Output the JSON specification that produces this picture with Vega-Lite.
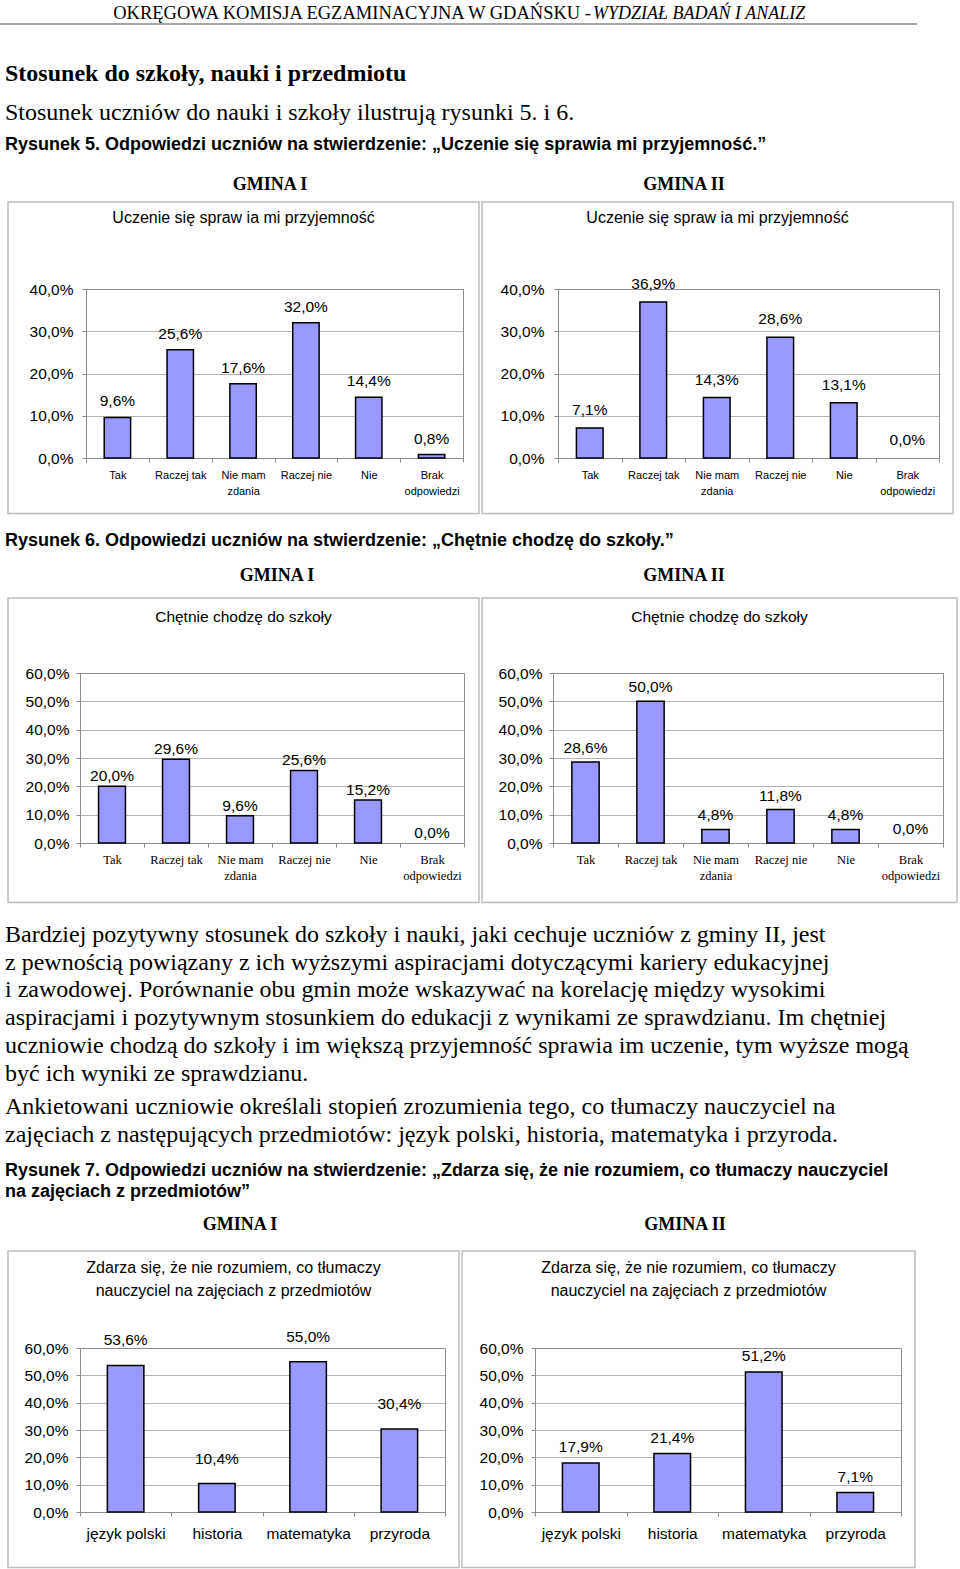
{
  "$schema": "https://vega.github.io/schema/vega-lite/v6.json",
  "padding": 0,
  "background": "white",
  "spacing": 0,
  "config": {
    "view": {"stroke": null},
    "font": "Liberation Sans",
    "locale": {"number": {"decimal": ",", "thousands": " ", "grouping": [3], "currency": ["", " zł"]}}
  },
  "datasets": {
    "g1_nauka": [
      {"odpowiedz": "Tak", "udzial": 0.096},
      {"odpowiedz": "Raczej tak", "udzial": 0.256},
      {"odpowiedz": "Nie mam zdania", "udzial": 0.176},
      {"odpowiedz": "Raczej nie", "udzial": 0.32},
      {"odpowiedz": "Nie", "udzial": 0.144},
      {"odpowiedz": "Brak odpowiedzi", "udzial": 0.008}
    ],
    "g2_nauka": [
      {"odpowiedz": "Tak", "udzial": 0.071},
      {"odpowiedz": "Raczej tak", "udzial": 0.369},
      {"odpowiedz": "Nie mam zdania", "udzial": 0.143},
      {"odpowiedz": "Raczej nie", "udzial": 0.286},
      {"odpowiedz": "Nie", "udzial": 0.131},
      {"odpowiedz": "Brak odpowiedzi", "udzial": 0.0}
    ],
    "g1_szkola": [
      {"odpowiedz": "Tak", "udzial": 0.2},
      {"odpowiedz": "Raczej tak", "udzial": 0.296},
      {"odpowiedz": "Nie mam zdania", "udzial": 0.096},
      {"odpowiedz": "Raczej nie", "udzial": 0.256},
      {"odpowiedz": "Nie", "udzial": 0.152},
      {"odpowiedz": "Brak odpowiedzi", "udzial": 0.0}
    ],
    "g2_szkola": [
      {"odpowiedz": "Tak", "udzial": 0.286},
      {"odpowiedz": "Raczej tak", "udzial": 0.5},
      {"odpowiedz": "Nie mam zdania", "udzial": 0.048},
      {"odpowiedz": "Raczej nie", "udzial": 0.118},
      {"odpowiedz": "Nie", "udzial": 0.048},
      {"odpowiedz": "Brak odpowiedzi", "udzial": 0.0}
    ],
    "g1_przedmioty": [
      {"przedmiot": "język polski", "udzial": 0.536},
      {"przedmiot": "historia", "udzial": 0.104},
      {"przedmiot": "matematyka", "udzial": 0.55},
      {"przedmiot": "przyroda", "udzial": 0.304}
    ],
    "g2_przedmioty": [
      {"przedmiot": "język polski", "udzial": 0.179},
      {"przedmiot": "historia", "udzial": 0.214},
      {"przedmiot": "matematyka", "udzial": 0.512},
      {"przedmiot": "przyroda", "udzial": 0.071}
    ]
  },
  "vconcat": [
    {
      "hconcat": [
        {"width": 591, "height": 23, "data": {"values": [{}]}, "mark": {"type": "point", "opacity": 0, "size": 0}, "encoding": {},
         "title": {"text": "OKRĘGOWA KOMISJA EGZAMINACYJNA W GDAŃSKU -", "anchor": "end", "frame": "group", "offset": -22.6, "font": "Liberation Serif", "fontSize": 18.5, "fontWeight": "normal", "color": "black"}},
        {"width": 369, "height": 23, "data": {"values": [{}]}, "mark": {"type": "point", "opacity": 0, "size": 0}, "encoding": {},
         "title": {"text": "WYDZIAŁ BADAŃ I ANALIZ", "anchor": "start", "frame": "group", "dx": 2, "offset": -22.6, "font": "Liberation Serif", "fontSize": 18, "fontStyle": "italic", "fontWeight": "normal", "color": "black"}}
      ],
      "spacing": 0, "bounds": "flush"
    },
    {"width": 917, "height": 2, "view": {"fill": "#a6a6a6", "stroke": null}, "data": {"values": [{}]}, "mark": {"type": "point", "opacity": 0, "size": 0}, "encoding": {}},
    {"width": 960, "height": 100, "data": {"values": [{}]}, "mark": {"type": "point", "opacity": 0, "size": 0}, "encoding": {},
     "title": {"text": "Stosunek do szkoły, nauki i przedmiotu", "subtitle": "Stosunek uczniów do nauki i szkoły ilustrują rysunki 5. i 6.", "anchor": "start", "frame": "group", "dx": 5, "offset": -100, "font": "Liberation Serif", "fontSize": 24, "fontWeight": "bold", "color": "black", "subtitleFont": "Liberation Serif", "subtitleFontSize": 24, "subtitleFontWeight": "normal", "subtitleColor": "black", "subtitlePadding": 15}},
    {"width": 960, "height": 35, "data": {"values": [{}]}, "mark": {"type": "point", "opacity": 0, "size": 0}, "encoding": {},
     "title": {"text": "Rysunek 5. Odpowiedzi uczniów na stwierdzenie: „Uczenie się sprawia mi przyjemność.”", "anchor": "start", "frame": "group", "dx": 5, "offset": -28.6, "font": "Liberation Sans", "fontSize": 18, "fontWeight": "bold", "color": "black"}},
    {
      "hconcat": [
        {"width": 480, "height": 41, "data": {"values": [{}]}, "mark": {"type": "point", "opacity": 0, "size": 0}, "encoding": {},
         "title": {"text": "GMINA I", "anchor": "middle", "frame": "group", "dx": 30, "offset": -33.6, "font": "Liberation Serif", "fontSize": 18, "fontWeight": "bold", "color": "black"}},
        {"width": 480, "height": 41, "data": {"values": [{}]}, "mark": {"type": "point", "opacity": 0, "size": 0}, "encoding": {},
         "title": {"text": "GMINA II", "anchor": "middle", "frame": "group", "dx": -36, "offset": -33.6, "font": "Liberation Serif", "fontSize": 18, "fontWeight": "bold", "color": "black"}}
      ],
      "spacing": 0, "bounds": "flush"
    },
    {
      "hconcat": [
        {"width": 5, "height": 10, "data": {"values": [{}]}, "mark": {"type": "point", "opacity": 0, "size": 0}, "encoding": {}},
        {
          "width": 471, "height": 311.5,
          "view": {"stroke": "#bdbdbd", "strokeWidth": 1.5},
          "title": {"text": "Uczenie się spraw ia mi przyjemność", "anchor": "middle", "frame": "group", "offset": -23.5, "font": "Liberation Sans", "fontSize": 16, "fontWeight": "normal", "color": "black"},
          "data": {"name": "g1_nauka"},
          "layer": [
            {"mark": {"type": "bar", "fill": "#9999ff", "stroke": "black", "width": {"band": 0.42}},
             "encoding": {
               "x": {"field": "odpowiedz", "type": "nominal", "sort": null,
                     "scale": {"range": [78, 455], "paddingInner": 0, "paddingOuter": 0},
                     "axis": {"orient": "bottom", "offset": -55.5, "title": null, "grid": false, "domainColor": "#8c8c8c", "tickColor": "#8c8c8c", "tickSize": 4, "tickBand": "extent", "labelAngle": 0, "labelFont": "Liberation Sans", "labelFontSize": 11, "labelColor": "black", "labelPadding": 7, "labelLineHeight": 16, "labelOverlap": false, "labelLimit": 0,
                              "labelExpr": "datum.label == 'Nie mam zdania' ? ['Nie mam', 'zdania'] : datum.label == 'Brak odpowiedzi' ? ['Brak', 'odpowiedzi'] : datum.label"}},
               "y": {"field": "udzial", "type": "quantitative",
                     "scale": {"domain": [0, 0.4], "range": [256, 87], "nice": false},
                     "axis": {"orient": "left", "offset": -78, "title": null, "values": [0, 0.1, 0.2, 0.3, 0.4], "format": ".1%", "grid": true, "gridColor": "#b4b4b4", "domainColor": "#8c8c8c", "tickColor": "#8c8c8c", "tickSize": 4, "labelFont": "Liberation Sans", "labelFontSize": 15.5, "labelColor": "black", "labelPadding": 9, "labelOverlap": false, "labelFlush": false}},
               "strokeWidth": {"condition": {"test": "datum.udzial == 0", "value": 0}, "value": 1.5}
             }},
            {"mark": {"type": "text", "baseline": "alphabetic", "dy": -11, "font": "Liberation Sans", "fontSize": 15.5, "color": "black"},
             "encoding": {
               "x": {"field": "odpowiedz", "type": "nominal", "sort": null, "axis": {"orient": "top", "offset": -87, "title": null, "labels": false, "ticks": false, "grid": false, "domainColor": "#8c8c8c"}},
               "y": {"field": "udzial", "type": "quantitative", "axis": {"orient": "right", "offset": -16, "title": null, "labels": false, "ticks": false, "grid": false, "domainColor": "#8c8c8c"}},
               "text": {"field": "udzial", "type": "quantitative", "format": ".1%"}
             }}
          ],
          "resolve": {"axis": {"x": "independent", "y": "independent"}}
        },
        {
          "width": 471, "height": 311.5,
          "view": {"stroke": "#bdbdbd", "strokeWidth": 1.5},
          "title": {"text": "Uczenie się spraw ia mi przyjemność", "anchor": "middle", "frame": "group", "offset": -23.5, "font": "Liberation Sans", "fontSize": 16, "fontWeight": "normal", "color": "black"},
          "data": {"name": "g2_nauka"},
          "layer": [
            {"mark": {"type": "bar", "fill": "#9999ff", "stroke": "black", "width": {"band": 0.42}},
             "encoding": {
               "x": {"field": "odpowiedz", "type": "nominal", "sort": null,
                     "scale": {"range": [76, 457], "paddingInner": 0, "paddingOuter": 0},
                     "axis": {"orient": "bottom", "offset": -55.5, "title": null, "grid": false, "domainColor": "#8c8c8c", "tickColor": "#8c8c8c", "tickSize": 4, "tickBand": "extent", "labelAngle": 0, "labelFont": "Liberation Sans", "labelFontSize": 11, "labelColor": "black", "labelPadding": 7, "labelLineHeight": 16, "labelOverlap": false, "labelLimit": 0,
                              "labelExpr": "datum.label == 'Nie mam zdania' ? ['Nie mam', 'zdania'] : datum.label == 'Brak odpowiedzi' ? ['Brak', 'odpowiedzi'] : datum.label"}},
               "y": {"field": "udzial", "type": "quantitative",
                     "scale": {"domain": [0, 0.4], "range": [256, 87], "nice": false},
                     "axis": {"orient": "left", "offset": -76, "title": null, "values": [0, 0.1, 0.2, 0.3, 0.4], "format": ".1%", "grid": true, "gridColor": "#b4b4b4", "domainColor": "#8c8c8c", "tickColor": "#8c8c8c", "tickSize": 4, "labelFont": "Liberation Sans", "labelFontSize": 15.5, "labelColor": "black", "labelPadding": 10, "labelOverlap": false, "labelFlush": false}},
               "strokeWidth": {"condition": {"test": "datum.udzial == 0", "value": 0}, "value": 1.5}
             }},
            {"mark": {"type": "text", "baseline": "alphabetic", "dy": -13, "font": "Liberation Sans", "fontSize": 15.5, "color": "black"},
             "encoding": {
               "x": {"field": "odpowiedz", "type": "nominal", "sort": null, "axis": {"orient": "top", "offset": -87, "title": null, "labels": false, "ticks": false, "grid": false, "domainColor": "#8c8c8c"}},
               "y": {"field": "udzial", "type": "quantitative", "axis": {"orient": "right", "offset": -14, "title": null, "labels": false, "ticks": false, "grid": false, "domainColor": "#8c8c8c"}},
               "text": {"field": "udzial", "type": "quantitative", "format": ".1%"}
             }}
          ],
          "resolve": {"axis": {"x": "independent", "y": "independent"}}
        }
      ],
      "spacing": 3, "bounds": "flush"
    },
    {"width": 960, "height": 48, "data": {"values": [{}]}, "mark": {"type": "point", "opacity": 0, "size": 0}, "encoding": {},
     "title": {"text": "Rysunek 6. Odpowiedzi uczniów na stwierdzenie: „Chętnie chodzę do szkoły.”", "anchor": "start", "frame": "group", "dx": 5, "offset": -34.6, "font": "Liberation Sans", "fontSize": 18, "fontWeight": "bold", "color": "black"}},
    {
      "hconcat": [
        {"width": 480, "height": 34, "data": {"values": [{}]}, "mark": {"type": "point", "opacity": 0, "size": 0}, "encoding": {},
         "title": {"text": "GMINA I", "anchor": "middle", "frame": "group", "dx": 37, "offset": -21.6, "font": "Liberation Serif", "fontSize": 18, "fontWeight": "bold", "color": "black"}},
        {"width": 480, "height": 34, "data": {"values": [{}]}, "mark": {"type": "point", "opacity": 0, "size": 0}, "encoding": {},
         "title": {"text": "GMINA II", "anchor": "middle", "frame": "group", "dx": -36, "offset": -21.6, "font": "Liberation Serif", "fontSize": 18, "fontWeight": "bold", "color": "black"}}
      ],
      "spacing": 0, "bounds": "flush"
    },
    {
      "hconcat": [
        {"width": 5, "height": 10, "data": {"values": [{}]}, "mark": {"type": "point", "opacity": 0, "size": 0}, "encoding": {}},
        {
          "width": 471, "height": 304.5,
          "view": {"stroke": "#bdbdbd", "strokeWidth": 1.5},
          "title": {"text": "Chętnie chodzę do szkoły", "anchor": "middle", "frame": "group", "offset": -27, "font": "Liberation Sans", "fontSize": 15.5, "fontWeight": "normal", "color": "black"},
          "data": {"name": "g1_szkola"},
          "layer": [
            {"mark": {"type": "bar", "fill": "#9999ff", "stroke": "black", "width": {"band": 0.42}},
             "encoding": {
               "x": {"field": "odpowiedz", "type": "nominal", "sort": null,
                     "scale": {"range": [72, 456], "paddingInner": 0, "paddingOuter": 0},
                     "axis": {"orient": "bottom", "offset": -59.5, "title": null, "grid": false, "domainColor": "#8c8c8c", "tickColor": "#8c8c8c", "tickSize": 4, "tickBand": "extent", "labelAngle": 0, "labelFont": "Liberation Serif", "labelFontSize": 12.5, "labelColor": "black", "labelPadding": 6, "labelLineHeight": 16.5, "labelOverlap": false, "labelLimit": 0,
                              "labelExpr": "datum.label == 'Nie mam zdania' ? ['Nie mam', 'zdania'] : datum.label == 'Brak odpowiedzi' ? ['Brak', 'odpowiedzi'] : datum.label"}},
               "y": {"field": "udzial", "type": "quantitative",
                     "scale": {"domain": [0, 0.6], "range": [245, 75], "nice": false},
                     "axis": {"orient": "left", "offset": -72, "title": null, "values": [0, 0.1, 0.2, 0.3, 0.4, 0.5, 0.6], "format": ".1%", "grid": true, "gridColor": "#b4b4b4", "domainColor": "#8c8c8c", "tickColor": "#8c8c8c", "tickSize": 4, "labelFont": "Liberation Sans", "labelFontSize": 15.5, "labelColor": "black", "labelPadding": 7, "labelOverlap": false, "labelFlush": false}},
               "strokeWidth": {"condition": {"test": "datum.udzial == 0", "value": 0}, "value": 1.5}
             }},
            {"mark": {"type": "text", "baseline": "alphabetic", "dy": -5, "font": "Liberation Sans", "fontSize": 15.5, "color": "black"},
             "encoding": {
               "x": {"field": "odpowiedz", "type": "nominal", "sort": null, "axis": {"orient": "top", "offset": -75, "title": null, "labels": false, "ticks": false, "grid": false, "domainColor": "#8c8c8c"}},
               "y": {"field": "udzial", "type": "quantitative", "axis": {"orient": "right", "offset": -15, "title": null, "labels": false, "ticks": false, "grid": false, "domainColor": "#8c8c8c"}},
               "text": {"field": "udzial", "type": "quantitative", "format": ".1%"}
             }}
          ],
          "resolve": {"axis": {"x": "independent", "y": "independent"}}
        },
        {
          "width": 475, "height": 304.5,
          "view": {"stroke": "#bdbdbd", "strokeWidth": 1.5},
          "title": {"text": "Chętnie chodzę do szkoły", "anchor": "middle", "frame": "group", "offset": -27, "font": "Liberation Sans", "fontSize": 15.5, "fontWeight": "normal", "color": "black"},
          "data": {"name": "g2_szkola"},
          "layer": [
            {"mark": {"type": "bar", "fill": "#9999ff", "stroke": "black", "width": {"band": 0.42}},
             "encoding": {
               "x": {"field": "odpowiedz", "type": "nominal", "sort": null,
                     "scale": {"range": [71, 461], "paddingInner": 0, "paddingOuter": 0},
                     "axis": {"orient": "bottom", "offset": -59.5, "title": null, "grid": false, "domainColor": "#8c8c8c", "tickColor": "#8c8c8c", "tickSize": 4, "tickBand": "extent", "labelAngle": 0, "labelFont": "Liberation Serif", "labelFontSize": 12.5, "labelColor": "black", "labelPadding": 6, "labelLineHeight": 16.5, "labelOverlap": false, "labelLimit": 0,
                              "labelExpr": "datum.label == 'Nie mam zdania' ? ['Nie mam', 'zdania'] : datum.label == 'Brak odpowiedzi' ? ['Brak', 'odpowiedzi'] : datum.label"}},
               "y": {"field": "udzial", "type": "quantitative",
                     "scale": {"domain": [0, 0.6], "range": [245, 75], "nice": false},
                     "axis": {"orient": "left", "offset": -71, "title": null, "values": [0, 0.1, 0.2, 0.3, 0.4, 0.5, 0.6], "format": ".1%", "grid": true, "gridColor": "#b4b4b4", "domainColor": "#8c8c8c", "tickColor": "#8c8c8c", "tickSize": 4, "labelFont": "Liberation Sans", "labelFontSize": 15.5, "labelColor": "black", "labelPadding": 7, "labelOverlap": false, "labelFlush": false}},
               "strokeWidth": {"condition": {"test": "datum.udzial == 0", "value": 0}, "value": 1.5}
             }},
            {"mark": {"type": "text", "baseline": "alphabetic", "dy": -9, "font": "Liberation Sans", "fontSize": 15.5, "color": "black"},
             "encoding": {
               "x": {"field": "odpowiedz", "type": "nominal", "sort": null, "axis": {"orient": "top", "offset": -75, "title": null, "labels": false, "ticks": false, "grid": false, "domainColor": "#8c8c8c"}},
               "y": {"field": "udzial", "type": "quantitative", "axis": {"orient": "right", "offset": -14, "title": null, "labels": false, "ticks": false, "grid": false, "domainColor": "#8c8c8c"}},
               "text": {"field": "udzial", "type": "quantitative", "format": ".1%"}
             }}
          ],
          "resolve": {"axis": {"x": "independent", "y": "independent"}}
        }
      ],
      "spacing": 3, "bounds": "flush"
    },
    {"width": 960, "height": 243, "data": {"values": [{}]}, "mark": {"type": "point", "opacity": 0, "size": 0}, "encoding": {},
     "title": {
       "text": [
         "Bardziej pozytywny stosunek do szkoły i nauki, jaki cechuje uczniów z gminy II, jest",
         "z pewnością powiązany z ich wyższymi aspiracjami dotyczącymi kariery edukacyjnej",
         "i zawodowej. Porównanie obu gmin może wskazywać na korelację między wysokimi",
         "aspiracjami i pozytywnym stosunkiem do edukacji z wynikami ze sprawdzianu. Im chętniej",
         "uczniowie chodzą do szkoły i im większą przyjemność sprawia im uczenie, tym wyższe mogą",
         "być ich wyniki ze sprawdzianu."
       ],
       "subtitle": [
         "Ankietowani uczniowie określali stopień zrozumienia tego, co tłumaczy nauczyciel na",
         "zajęciach z następujących przedmiotów: język polski, historia, matematyka i przyroda."
       ],
       "anchor": "start", "frame": "group", "dx": 5, "offset": -242.8,
       "font": "Liberation Serif", "fontSize": 24, "fontWeight": "normal", "color": "black", "lineHeight": 27.7,
       "subtitleFont": "Liberation Serif", "subtitleFontSize": 24, "subtitleFontWeight": "normal", "subtitleColor": "black", "subtitleLineHeight": 27.7, "subtitlePadding": 9.6
     }},
    {"width": 960, "height": 55, "data": {"values": [{}]}, "mark": {"type": "point", "opacity": 0, "size": 0}, "encoding": {},
     "title": {"text": ["Rysunek 7. Odpowiedzi uczniów na stwierdzenie: „Zdarza się, że nie rozumiem, co tłumaczy nauczyciel", "na zajęciach z przedmiotów”"], "anchor": "start", "frame": "group", "dx": 5, "offset": -53.6, "lineHeight": 21, "font": "Liberation Sans", "fontSize": 18, "fontWeight": "bold", "color": "black"}},
    {
      "hconcat": [
        {"width": 480, "height": 48, "data": {"values": [{}]}, "mark": {"type": "point", "opacity": 0, "size": 0}, "encoding": {},
         "title": {"text": "GMINA I", "anchor": "middle", "frame": "group", "dx": 0, "offset": -31.6, "font": "Liberation Serif", "fontSize": 18, "fontWeight": "bold", "color": "black"}},
        {"width": 480, "height": 48, "data": {"values": [{}]}, "mark": {"type": "point", "opacity": 0, "size": 0}, "encoding": {},
         "title": {"text": "GMINA II", "anchor": "middle", "frame": "group", "dx": -35, "offset": -31.6, "font": "Liberation Serif", "fontSize": 18, "fontWeight": "bold", "color": "black"}}
      ],
      "spacing": 0, "bounds": "flush"
    },
    {
      "hconcat": [
        {"width": 5, "height": 10, "data": {"values": [{}]}, "mark": {"type": "point", "opacity": 0, "size": 0}, "encoding": {}},
        {
          "width": 451, "height": 316.5,
          "view": {"stroke": "#bdbdbd", "strokeWidth": 1.5},
          "title": {"text": ["Zdarza się, że nie rozumiem, co tłumaczy", "nauczyciel na zajęciach z przedmiotów"], "lineHeight": 22.5, "anchor": "middle", "frame": "group", "offset": -47.7, "font": "Liberation Sans", "fontSize": 16, "fontWeight": "normal", "color": "black"},
          "data": {"name": "g1_przedmioty"},
          "layer": [
            {"mark": {"type": "bar", "fill": "#9999ff", "stroke": "black", "width": {"band": 0.4}},
             "encoding": {
               "x": {"field": "przedmiot", "type": "nominal", "sort": null,
                     "scale": {"range": [72, 437], "paddingInner": 0, "paddingOuter": 0},
                     "axis": {"orient": "bottom", "offset": -55.5, "title": null, "grid": false, "domainColor": "#8c8c8c", "tickColor": "#8c8c8c", "tickSize": 4, "tickBand": "extent", "labelAngle": 0, "labelFont": "Liberation Sans", "labelFontSize": 15.5, "labelColor": "black", "labelPadding": 10.5, "labelOverlap": false, "labelLimit": 0}},
               "y": {"field": "udzial", "type": "quantitative",
                     "scale": {"domain": [0, 0.6], "range": [261, 97], "nice": false},
                     "axis": {"orient": "left", "offset": -72, "title": null, "values": [0, 0.1, 0.2, 0.3, 0.4, 0.5, 0.6], "format": ".1%", "grid": true, "gridColor": "#b4b4b4", "domainColor": "#8c8c8c", "tickColor": "#8c8c8c", "tickSize": 4, "labelFont": "Liberation Sans", "labelFontSize": 15.5, "labelColor": "black", "labelPadding": 8, "labelOverlap": false, "labelFlush": false}},
               "strokeWidth": {"condition": {"test": "datum.udzial == 0", "value": 0}, "value": 1.5}
             }},
            {"mark": {"type": "text", "baseline": "alphabetic", "dy": -20, "font": "Liberation Sans", "fontSize": 15.5, "color": "black"},
             "encoding": {
               "x": {"field": "przedmiot", "type": "nominal", "sort": null, "axis": {"orient": "top", "offset": -97, "title": null, "labels": false, "ticks": false, "grid": false, "domainColor": "#8c8c8c"}},
               "y": {"field": "udzial", "type": "quantitative", "axis": {"orient": "right", "offset": -14, "title": null, "labels": false, "ticks": false, "grid": false, "domainColor": "#8c8c8c"}},
               "text": {"field": "udzial", "type": "quantitative", "format": ".1%"}
             }}
          ],
          "resolve": {"axis": {"x": "independent", "y": "independent"}}
        },
        {
          "width": 453, "height": 316.5,
          "view": {"stroke": "#bdbdbd", "strokeWidth": 1.5},
          "title": {"text": ["Zdarza się, że nie rozumiem, co tłumaczy", "nauczyciel na zajęciach z przedmiotów"], "lineHeight": 22.5, "anchor": "middle", "frame": "group", "offset": -47.7, "font": "Liberation Sans", "fontSize": 16, "fontWeight": "normal", "color": "black"},
          "data": {"name": "g2_przedmioty"},
          "layer": [
            {"mark": {"type": "bar", "fill": "#9999ff", "stroke": "black", "width": {"band": 0.4}},
             "encoding": {
               "x": {"field": "przedmiot", "type": "nominal", "sort": null,
                     "scale": {"range": [73, 439], "paddingInner": 0, "paddingOuter": 0},
                     "axis": {"orient": "bottom", "offset": -55.5, "title": null, "grid": false, "domainColor": "#8c8c8c", "tickColor": "#8c8c8c", "tickSize": 4, "tickBand": "extent", "labelAngle": 0, "labelFont": "Liberation Sans", "labelFontSize": 15.5, "labelColor": "black", "labelPadding": 10.5, "labelOverlap": false, "labelLimit": 0}},
               "y": {"field": "udzial", "type": "quantitative",
                     "scale": {"domain": [0, 0.6], "range": [261, 97], "nice": false},
                     "axis": {"orient": "left", "offset": -73, "title": null, "values": [0, 0.1, 0.2, 0.3, 0.4, 0.5, 0.6], "format": ".1%", "grid": true, "gridColor": "#b4b4b4", "domainColor": "#8c8c8c", "tickColor": "#8c8c8c", "tickSize": 4, "labelFont": "Liberation Sans", "labelFontSize": 15.5, "labelColor": "black", "labelPadding": 8, "labelOverlap": false, "labelFlush": false}},
               "strokeWidth": {"condition": {"test": "datum.udzial == 0", "value": 0}, "value": 1.5}
             }},
            {"mark": {"type": "text", "baseline": "alphabetic", "dy": -11, "font": "Liberation Sans", "fontSize": 15.5, "color": "black"},
             "encoding": {
               "x": {"field": "przedmiot", "type": "nominal", "sort": null, "axis": {"orient": "top", "offset": -97, "title": null, "labels": false, "ticks": false, "grid": false, "domainColor": "#8c8c8c"}},
               "y": {"field": "udzial", "type": "quantitative", "axis": {"orient": "right", "offset": -14, "title": null, "labels": false, "ticks": false, "grid": false, "domainColor": "#8c8c8c"}},
               "text": {"field": "udzial", "type": "quantitative", "format": ".1%"}
             }}
          ],
          "resolve": {"axis": {"x": "independent", "y": "independent"}}
        }
      ],
      "spacing": 3, "bounds": "flush"
    }
  ]
}
